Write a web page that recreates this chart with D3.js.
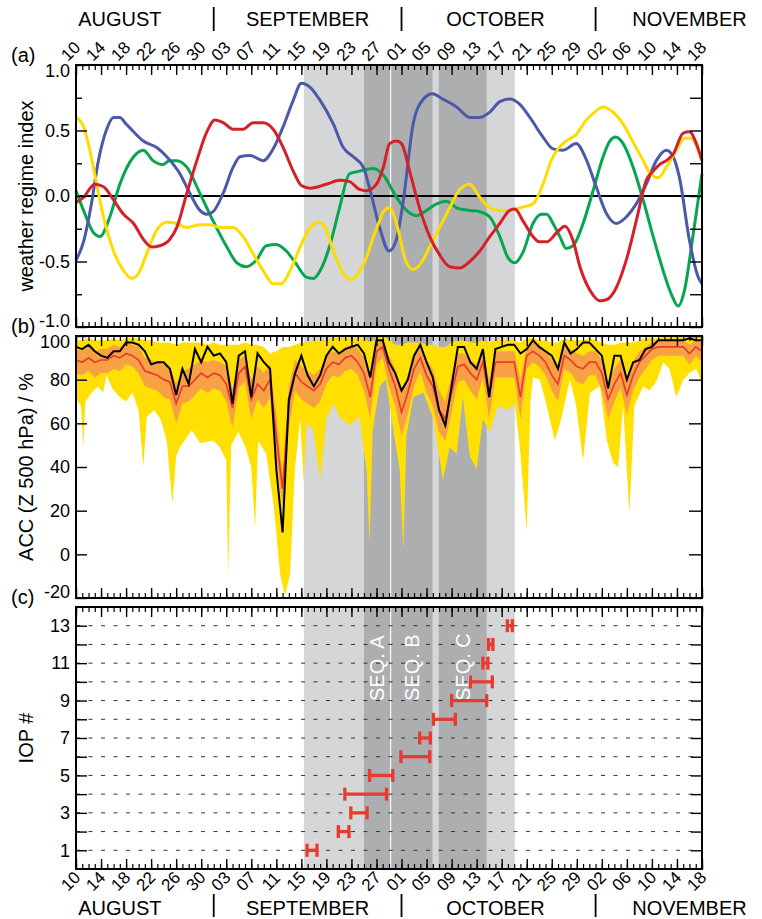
<!DOCTYPE html>
<html>
<head>
<meta charset="utf-8">
<script src="https://cdn.jsdelivr.net/npm/d3@7"></script>
<style>
  body { margin: 0; background: #fff; }
  svg { display: block; }
</style>
</head>
<body>
<script>
// Layout constants
const WIDTH = 762;
const HEIGHT = 919;
const LEFT = 76;
const RIGHT = 702;
const PANEL_H = 262;
const TOP_A = 65, TOP_B = 336, TOP_C = 607;
const FONT = '"Liberation Sans", Arial, Helvetica, sans-serif';

const LIGHT_GRAY = '#d5d6d8';
const DARK_GRAY = '#adaeb0';

// ---------------- data ----------------
const START_DATE = new Date(Date.UTC(2016, 7, 10));
const N_DAYS = 100;

const monthNames = ['AUGUST', 'SEPTEMBER', 'OCTOBER', 'NOVEMBER'];
const monthLabelDays = [7, 37, 67, 98];

// shaded periods, days since 10 Aug
const nawdexPeriod = [36.4, 70.1];
const seqNames = ['SEQ. A', 'SEQ. B', 'SEQ. C'];
const seqStart = [46.0, 50.35, 57.95];
const seqEnd = [50.15, 56.95, 65.6];

// (a) weather regime index, [day, index]
const regimeBlue = [[0,-0.49],[1.2,-0.35],[2.5,-0.05],[3.5,0.25],[4.9,0.51],[6,0.6],[7,0.6],[8,0.55],[9.2,0.49],[10.75,0.42],[12.9,0.37],[14.5,0.30],[16.6,0.17],[18.2,0.02],[19.8,-0.11],[20.9,-0.14],[21.9,-0.12],[23.5,0.02],[25.1,0.22],[26.2,0.30],[27.8,0.31],[29.9,0.27],[31.5,0.36],[33.1,0.53],[34.7,0.73],[36.0,0.86],[37.4,0.83],[39.0,0.73],[41.1,0.55],[42.7,0.37],[44.3,0.30],[45.9,0.22],[46.9,0.06],[48.5,-0.24],[50.0,-0.42],[51.2,-0.33],[52.3,-0.03],[53.9,0.56],[55.5,0.74],[56.9,0.78],[58.6,0.74],[60.8,0.68],[62.9,0.60],[64.5,0.60],[66.1,0.64],[67.7,0.72],[69.3,0.74],[70.9,0.70],[72.5,0.60],[74.6,0.45],[76.2,0.36],[77.8,0.35],[79.9,0.40],[81.5,0.28],[83.1,0.07],[84.8,-0.14],[86.3,-0.21],[87.9,-0.16],[89.5,-0.06],[91.1,0.09],[92.7,0.27],[94.3,0.35],[95.4,0.30],[96.4,0.14],[98.0,-0.34],[99.4,-0.62],[100,-0.67]];
const regimeGreen = [[0,0.04],[1.2,-0.11],[2.8,-0.28],[3.8,-0.31],[5.4,-0.16],[7,0.09],[9.2,0.30],[10.75,0.35],[12.3,0.27],[13.9,0.24],[14.9,0.27],[16.1,0.27],[17.7,0.22],[19.8,0.02],[21.9,-0.19],[24.1,-0.39],[25.7,-0.51],[27.2,-0.54],[28.8,-0.49],[30.4,-0.38],[32.0,-0.37],[33.6,-0.42],[35.2,-0.52],[36.8,-0.62],[37.9,-0.63],[39.0,-0.57],[40.6,-0.37],[42.1,-0.09],[43.7,0.17],[45.3,0.19],[47.5,0.21],[49.1,0.16],[51.2,-0.01],[52.8,-0.11],[54.4,-0.15],[56.0,-0.11],[57.6,-0.06],[59.2,-0.04],[60.8,-0.09],[62.9,-0.11],[64.5,-0.12],[66.1,-0.16],[67.7,-0.31],[69.0,-0.47],[70.1,-0.51],[71.4,-0.43],[73.0,-0.21],[74.4,-0.14],[75.2,-0.14],[76.2,-0.21],[77.3,-0.31],[78.3,-0.40],[79.4,-0.38],[81.0,-0.21],[82.6,0.04],[84.2,0.30],[85.3,0.42],[86.2,0.45],[87.4,0.40],[89.0,0.22],[90.6,-0.03],[92.2,-0.31],[93.8,-0.57],[95.1,-0.75],[96.2,-0.84],[97.2,-0.72],[98.6,-0.29],[100,0.17]];
const regimeRed = [[0,-0.05],[1.2,-0.01],[3.0,0.09],[4.4,0.07],[6.0,-0.03],[7.6,-0.14],[9.2,-0.21],[10.75,-0.33],[12.1,-0.39],[13.4,-0.38],[15.0,-0.33],[16.1,-0.24],[17.7,0.02],[19.3,0.27],[20.9,0.49],[22.2,0.58],[23.5,0.56],[25.1,0.51],[26.7,0.51],[28.3,0.56],[29.9,0.56],[31.5,0.51],[33.1,0.37],[34.7,0.19],[36.0,0.08],[37.4,0.06],[40.0,0.09],[42.1,0.12],[43.7,0.11],[45.3,0.05],[46.4,0.04],[48.0,0.09],[49.1,0.22],[50.1,0.40],[51.2,0.42],[52.0,0.40],[53.4,0.17],[55.0,-0.11],[56.5,-0.31],[58.1,-0.45],[59.7,-0.54],[61.3,-0.55],[62.9,-0.50],[64.5,-0.42],[66.1,-0.31],[67.7,-0.21],[69.3,-0.11],[70.1,-0.10],[71.4,-0.19],[73.0,-0.31],[74.0,-0.35],[75.2,-0.35],[76.8,-0.28],[78.1,-0.23],[79.4,-0.34],[80.5,-0.54],[82.1,-0.72],[83.7,-0.80],[84.8,-0.79],[86.3,-0.70],[87.9,-0.49],[89.5,-0.19],[91.1,0.12],[92.2,0.19],[93.2,0.24],[94.3,0.27],[95.4,0.32],[97.0,0.48],[98.0,0.49],[99.1,0.40],[100,0.27]];
const regimeYellow = [[0,0.60],[1.2,0.53],[2.2,0.35],[3.3,0.09],[4.4,-0.16],[6.0,-0.42],[7.6,-0.57],[8.9,-0.63],[10.0,-0.59],[11.3,-0.44],[12.9,-0.26],[14.5,-0.20],[16.1,-0.21],[17.7,-0.24],[19.8,-0.22],[21.4,-0.22],[23.0,-0.24],[25.1,-0.24],[26.7,-0.31],[28.3,-0.44],[29.9,-0.57],[31.5,-0.67],[32.8,-0.67],[34.2,-0.57],[35.8,-0.39],[37.4,-0.24],[38.7,-0.20],[39.8,-0.24],[41.1,-0.42],[42.7,-0.59],[44.0,-0.64],[45.1,-0.59],[46.4,-0.47],[47.5,-0.31],[48.5,-0.19],[49.1,-0.12],[50.1,-0.09],[51.2,-0.21],[52.8,-0.51],[53.9,-0.56],[55.0,-0.52],[56.5,-0.39],[58.1,-0.24],[59.7,-0.09],[61.3,0.05],[62.9,0.09],[64.5,-0.01],[66.1,-0.09],[67.7,-0.11],[69.3,-0.11],[70.9,-0.09],[73.0,-0.06],[74.6,0.09],[75.9,0.27],[77.0,0.36],[78.3,0.42],[79.9,0.47],[81.5,0.58],[83.1,0.65],[84.2,0.68],[85.8,0.64],[87.4,0.55],[89.0,0.41],[90.6,0.27],[91.6,0.18],[93.0,0.14],[94.3,0.22],[95.9,0.35],[97.2,0.44],[98.3,0.44],[99.4,0.35],[100,0.27]];

// (b) ACC of Z500, one value per day (day 0..100)
const accMedian = [89,88,90,88,89,89,91,90,92,91, 89,84,83,82,80,79,69,77,77,80, 83,81,83,82,78,67,83,86,71,78, 75,80,54,30,69,83,79,77,75,78, 85,88,87,90,91,88,83,72,93,95, 85,77,65,74,85,90,82,77,66,62, 74,86,87,83,80,88,72,88,88,88, 88,72,91,93,91,88,82,78,91,89, 86,85,88,88,83,71,78,83,73,82, 88,91,94,95,95,95,95,95,92,95, 93];
const accControl = [95,94,96,93,91,90,93,93,97,97, 96,93,87,88,88,85,73,85,78,94, 88,95,91,92,88,69,91,93,72,92, 88,85,39,10,71,83,91,82,77,82, 91,95,92,94,95,96,92,81,98,98, 88,83,75,80,91,96,88,81,66,59, 77,95,95,88,85,94,72,94,95,96, 96,92,94,98,95,93,91,85,97,92, 94,97,97,94,91,76,91,91,80,88, 89,94,95,98,98,98,98,98,99,98, 98];
const accQ75 = [94,93,95,93,94,94,96,95,97,96, 95,90,89,88,87,86,78,84,85,87, 89,88,89,88,86,76,89,91,80,86, 83,87,64,36,77,89,86,84,82,85, 91,93,92,95,96,94,90,81,97,98, 91,85,74,82,91,95,89,85,75,70, 82,92,92,89,87,93,80,93,93,93, 93,80,95,97,95,93,89,86,96,94, 92,91,93,93,89,79,85,89,81,88, 93,95,97,98,98,98,98,98,96,98, 97];
const accQ25 = [83,82,84,81,83,83,85,84,87,86, 83,77,76,75,72,71,60,69,70,73, 76,74,76,75,70,58,76,79,62,71, 67,72,44,22,58,75,71,69,67,70, 78,82,81,84,85,82,75,62,87,90, 77,68,54,64,77,84,74,68,56,52, 65,79,80,75,71,81,62,81,81,81, 81,62,85,88,86,82,75,70,85,83, 79,78,82,82,75,62,70,76,64,75, 81,85,89,91,91,91,91,91,87,91, 88];
const accMax = [98,98,99,98,98,98,99,98,99,99, 99,98,98,97,97,97,96,97,97,97, 97,96,97,96,96,96,96,97,96,96, 95,92,93,95,95,96,97,97,98,98, 98,99,99,99,99,99,99,97,99,100, 98,96,96,97,97,97,96,96,95,95, 97,98,98,97,97,98,97,98,98,98, 98,97,99,99,98,98,97,97,99,98, 98,98,99,98,97,96,96,97,97,97, 98,99,99,99,100,100,100,100,100,100, 100];
// ensemble minimum is spikier, so it has its own days
const accMinDays = [0,0.8,1.17,1.5,2.5,3.5,4.3,4.9,5.8,7,8,9,10,10.75,11.3,12.5,13.5,14.5,15.4,16,16.6,18.5,19.8,21.9,23,24,24.3,24.8,25.9,27.1,28,28.6,29.1,30.4,31.6,32.6,33.4,34.2,34.96,35.8,36.4,36.8,37.9,39,40,41.1,42.1,43.7,45.3,46.4,46.9,47.4,48.5,49.5,50.7,51.7,52.3,52.8,53.9,55.5,57.1,58.6,59.7,60.8,61.8,62.9,64,65,66.1,67.4,68.8,70.1,70.9,72,72.6,73,74.1,75.2,76.5,77.5,78.9,79.9,81,82.1,83.7,84.8,85.8,86.6,87.4,88.4,89.2,90.6,91.6,92.7,93.8,94.8,95.9,97,98,99.1,100];
const accMin = [71,68,49,70,74,77,74,82,76,72,70,74,66,40,63,66,62,52,23,45,49,57,51,52,49,43,-10,50,56,49,40,12,52,46,22,-9,-19,-9,39,62,33,60,57,34,62,69,63,59,63,39,5,57,77,80,57,39,2,55,72,74,62,34,49,46,72,45,39,62,56,68,66,69,49,11,70,81,80,68,52,62,80,68,43,74,77,52,42,40,68,19,68,77,75,79,88,85,72,80,83,85,78];

// (c) IOP periods
const iopNumbers = [1,2,3,4,5,6,7,8,9,10,11,12,13];
const iopStart = [36.9,41.9,43.9,42.95,46.9,51.9,54.9,57.1,60.0,63.0,65.0,65.9,68.9];
const iopEnd = [38.5,43.6,46.5,49.6,50.6,56.5,56.6,60.6,65.6,66.5,65.8,66.6,69.7];

// ---------------- drawing ----------------
const svg = d3.select('body').append('svg')
  .attr('width', WIDTH)
  .attr('height', HEIGHT)
  .style('font-family', FONT);

const x = d3.scaleLinear().domain([0, N_DAYS]).range([LEFT, RIGHT]);
const dateOf = d => new Date(START_DATE.getTime() + d * 864e5);
const dayOf = date => (date - START_DATE) / 864e5;
const fmtDay = d => d3.utcFormat('%d')(dateOf(d));
const allDays = d3.range(0, N_DAYS + 1);
const majorDays = d3.range(0, N_DAYS + 1, 4);

drawMonths();
drawPanelA();
drawPanelB();
drawPanelC();

function styleTicks (a, w) {
  a.select('.domain').remove();
  a.selectAll('.tick line').attr('stroke', '#000').attr('stroke-width', w || 1.3);
  a.attr('font-family', FONT);
}

function drawShading (g, top) {
  g.append('rect')
    .attr('x', x(nawdexPeriod[0]))
    .attr('y', top)
    .attr('width', x(nawdexPeriod[1]) - x(nawdexPeriod[0]))
    .attr('height', PANEL_H)
    .attr('fill', LIGHT_GRAY);
  g.selectAll('rect.seq')
    .data(d3.range(seqNames.length))
    .join('rect')
    .attr('class', 'seq')
    .attr('x', i => x(seqStart[i]))
    .attr('y', top)
    .attr('width', i => x(seqEnd[i]) - x(seqStart[i]))
    .attr('height', PANEL_H)
    .attr('fill', DARK_GRAY);
  // thin white gap between seq A and B
  const xm = x((seqEnd[0] + seqStart[1]) / 2);
  g.append('line')
    .attr('x1', xm).attr('x2', xm)
    .attr('y1', top).attr('y2', top + PANEL_H)
    .attr('stroke', '#f4f4f4')
    .attr('stroke-width', 1.2);
}

function drawFrame (g, top) {
  const bottom = top + PANEL_H;
  // day ticks on top and bottom, pointing inwards
  [[top, d3.axisBottom], [bottom, d3.axisTop]].forEach(([yPos, axisFn]) => {
    g.append('g')
      .attr('transform', `translate(0,${yPos})`)
      .call(axisFn(x).tickValues(allDays).tickSize(5).tickFormat(''))
      .call(a => styleTicks(a, 1.2));
    g.append('g')
      .attr('transform', `translate(0,${yPos})`)
      .call(axisFn(x).tickValues(majorDays).tickSize(10).tickFormat(''))
      .call(a => styleTicks(a, 1.4));
  });
  g.append('rect')
    .attr('x', LEFT).attr('y', top)
    .attr('width', RIGHT - LEFT).attr('height', PANEL_H)
    .attr('fill', 'none')
    .attr('stroke', '#000')
    .attr('stroke-width', 2);
}

function drawYAxis (g, y, values, fmt, leftLen, rightLen, minor) {
  g.append('g')
    .attr('transform', `translate(${LEFT},0)`)
    .call(d3.axisLeft(y).tickValues(values).tickSizeInner(-leftLen).tickSizeOuter(0).tickPadding(6).tickFormat(fmt))
    .call(a => styleTicks(a, 1.4))
    .call(a => a.selectAll('.tick text').attr('font-size', 18).attr('fill', '#000'));
  if (minor) {
    g.append('g')
      .attr('transform', `translate(${LEFT},0)`)
      .call(d3.axisLeft(y).tickValues(minor).tickSize(-6).tickFormat(''))
      .call(a => styleTicks(a, 1.4));
  }
  g.append('g')
    .attr('transform', `translate(${RIGHT},0)`)
    .call(d3.axisRight(y).tickValues(values.concat(minor || [])).tickSize(-rightLen).tickFormat(''))
    .call(a => styleTicks(a, 1.4));
}

function yTitle (g, text, cy) {
  g.append('text')
    .attr('transform', `translate(33,${cy}) rotate(-90)`)
    .attr('text-anchor', 'middle')
    .attr('font-size', 20)
    .text(text);
}

function panelLabel (g, text, top) {
  g.append('text')
    .attr('x', 11)
    .attr('y', top - 3)
    .attr('font-size', 20)
    .text(text);
}

function drawMonths () {
  const g = svg.append('g');
  const seps = d3.utcMonths(dateOf(1), dateOf(N_DAYS)).map(dayOf);
  [[26, 7, 31], [915, 894, 917]].forEach(([base, y1, y2]) => {
    g.selectAll(null)
      .data(monthNames)
      .join('text')
      .attr('x', (d, i) => x(monthLabelDays[i]))
      .attr('y', base)
      .attr('text-anchor', 'middle')
      .attr('font-size', 20)
      .text(d => d);
    g.selectAll(null)
      .data(seps)
      .join('line')
      .attr('x1', d => x(d)).attr('x2', d => x(d))
      .attr('y1', y1).attr('y2', y2)
      .attr('stroke', '#000')
      .attr('stroke-width', 1.8);
  });

  // rotated day labels above (a) and below (c)
  g.append('g')
    .attr('transform', `translate(0,${TOP_A})`)
    .call(d3.axisTop(x).tickValues(majorDays).tickSize(0).tickFormat(fmtDay))
    .call(a => styleTicks(a))
    .call(a => a.selectAll('.tick text')
      .attr('y', 0).attr('dy', '0.35em')
      .attr('text-anchor', 'middle')
      .attr('font-size', 17)
      .attr('fill', '#000')
      .attr('transform', 'translate(-6,-14) rotate(-45)'));
  g.append('g')
    .attr('transform', `translate(0,${TOP_C + PANEL_H})`)
    .call(d3.axisBottom(x).tickValues(majorDays).tickSize(0).tickFormat(fmtDay))
    .call(a => styleTicks(a))
    .call(a => a.selectAll('.tick text')
      .attr('y', 0).attr('dy', '0.35em')
      .attr('text-anchor', 'middle')
      .attr('font-size', 17)
      .attr('fill', '#000')
      .attr('transform', 'translate(-6,12) rotate(-45)'));
}

function drawPanelA () {
  const g = svg.append('g');
  const y = d3.scaleLinear().domain([-1, 1]).range([TOP_A + PANEL_H, TOP_A]);
  drawShading(g, TOP_A);

  g.append('line')
    .attr('x1', LEFT).attr('x2', RIGHT)
    .attr('y1', y(0)).attr('y2', y(0))
    .attr('stroke', '#000').attr('stroke-width', 2);

  const line = d3.line()
    .x(d => x(d[0]))
    .y(d => y(d[1]))
    .curve(d3.curveMonotoneX);
  const series = [
    [regimeGreen, '#06a550'],
    [regimeBlue, '#4a5aa8'],
    [regimeYellow, '#ffdc00'],
    [regimeRed, '#d5202a']
  ];
  series.forEach(([data, color]) => {
    g.append('path')
      .datum(data)
      .attr('d', line)
      .attr('fill', 'none')
      .attr('stroke', color)
      .attr('stroke-width', 3);
  });

  drawFrame(g, TOP_A);
  drawYAxis(g, y, [-1, -0.5, 0, 0.5, 1], d => d.toFixed(1), 11, 12, [-0.75, -0.25, 0.25, 0.75]);
  // end labels sit inside the frame
  g.selectAll('.tick text').filter(d => d === 1).attr('y', 6);
  g.selectAll('.tick text').filter(d => d === -1).attr('y', -6);
  yTitle(g, 'weather regime index', y(0));
  panelLabel(g, '(a)', TOP_A);
}

function drawPanelB () {
  const g = svg.append('g');
  const y = d3.scaleLinear().domain([-20, 100]).range([TOP_B + PANEL_H, TOP_B]);
  drawShading(g, TOP_B);

  // ensemble range as one polygon: max forward, min backward
  const rangePts = allDays.map((d, i) => [d, accMax[i]])
    .concat(accMinDays.map((d, i) => [d, accMin[i]]).reverse());
  g.append('path')
    .datum(rangePts)
    .attr('d', d3.line().x(d => x(d[0])).y(d => y(d[1])))
    .attr('fill', '#ffe000');

  const quart = d3.area()
    .x(d => x(d))
    .y0(d => y(accQ25[d]))
    .y1(d => y(accQ75[d]));
  g.append('path')
    .datum(allDays)
    .attr('d', quart)
    .attr('fill', '#f7a044');

  const lineOf = arr => d3.line().x(d => x(d)).y(d => y(arr[d]));
  g.append('path')
    .datum(allDays)
    .attr('d', lineOf(accMedian))
    .attr('fill', 'none')
    .attr('stroke', '#ea3c2d')
    .attr('stroke-width', 1.7);
  g.append('path')
    .datum(allDays)
    .attr('d', lineOf(accControl))
    .attr('fill', 'none')
    .attr('stroke', '#000')
    .attr('stroke-width', 2);

  drawFrame(g, TOP_B);
  drawYAxis(g, y, [-20, 0, 20, 40, 60, 80, 100], d => String(d), 11, 13);
  g.selectAll('.tick text').filter(d => d === 100).attr('y', 6);
  g.selectAll('.tick text').filter(d => d === -20).attr('y', -6);
  yTitle(g, 'ACC (Z 500 hPa) / %', (y(-20) + y(100)) / 2);
  panelLabel(g, '(b)', TOP_B);
}

function drawPanelC () {
  const g = svg.append('g');
  const y = d3.scaleLinear().domain([0, 14]).range([TOP_C + PANEL_H, TOP_C]);
  drawShading(g, TOP_C);

  // dashed guides at each IOP
  g.selectAll('line.grid')
    .data(iopNumbers)
    .join('line')
    .attr('class', 'grid')
    .attr('x1', LEFT).attr('x2', RIGHT)
    .attr('y1', d => y(d)).attr('y2', d => y(d))
    .attr('stroke', '#333')
    .attr('stroke-width', 1)
    .attr('stroke-dasharray', '4,8.5');

  // sequence labels
  g.selectAll('text.seq')
    .data(d3.range(seqNames.length))
    .join('text')
    .attr('class', 'seq')
    .attr('transform', i => `translate(${x((seqStart[i] + seqEnd[i]) / 2) + 7},${TOP_C + 94}) rotate(-90)`)
    .attr('fill', '#fff')
    .attr('font-size', 20)
    .text(i => seqNames[i]);

  const iops = iopNumbers.map((n, i) => ({ n, s: iopStart[i], e: iopEnd[i] }));
  const bar = g.selectAll('g.iop').data(iops).join('g').attr('class', 'iop')
    .attr('stroke', '#ea3a2f')
    .attr('stroke-width', 3.3);
  bar.append('line')
    .attr('x1', d => x(d.s)).attr('x2', d => x(d.e))
    .attr('y1', d => y(d.n)).attr('y2', d => y(d.n));
  ['s', 'e'].forEach(k => {
    bar.append('line')
      .attr('x1', d => x(d[k])).attr('x2', d => x(d[k]))
      .attr('y1', d => y(d.n) - 6.5).attr('y2', d => y(d.n) + 6.5);
  });

  drawFrame(g, TOP_C);
  drawYAxis(g, y, iopNumbers, d => (d % 2 ? String(d) : ''), 11, 11);
  yTitle(g, 'IOP #', (y(0) + y(14)) / 2);
  panelLabel(g, '(c)', TOP_C);
}
</script>
</body>
</html>
